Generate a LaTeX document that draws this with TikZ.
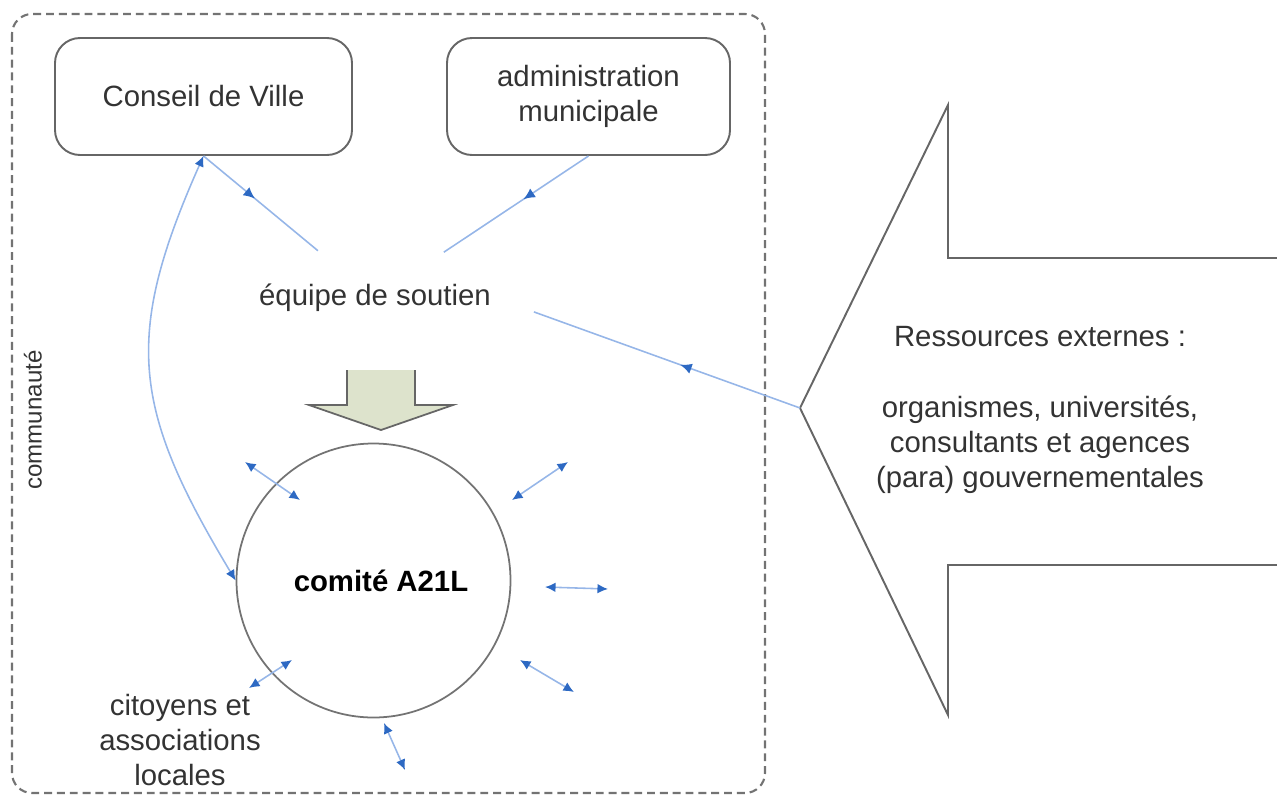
\documentclass[tikz,border=0pt]{standalone}
\usepackage{fontspec}
\setmainfont{Liberation Sans}
\usepackage{tikz}
\usetikzlibrary{arrows.meta}
\usetikzlibrary{shapes.geometric}
\usetikzlibrary{decorations.markings}
\definecolor{linkblue}{RGB}{150,182,232}
\definecolor{tipblue}{RGB}{45,105,195}
\definecolor{arrowfill}{RGB}{221,227,204}
\definecolor{txtgray}{RGB}{51,51,51}
\newcommand*\txtsize{\fontsize{16.7}{20}\selectfont}
\tikzset{
  entity/.style={draw=black!60,line width=1.1pt,rounded corners=0.5cm,minimum width=#1,
    minimum height=2.34cm,align=center,text=txtgray},
  link/.style={linkblue,line width=0.9pt},
  dbl/.style={link,{Latex[length=6pt,width=5.5pt,color=tipblue]}-{Latex[length=6pt,width=5.5pt,color=tipblue]}},
  midtip/.style={link,postaction={decorate},decoration={markings,
    mark=at position 0.45 with {\arrow{Latex[length=6.5pt,width=6pt,color=tipblue]}}}},
}

\begin{document}
\begin{tikzpicture}[font=\txtsize]
\useasboundingbox (0,0) rectangle (25.54,-15.9);
%community frame
\draw [black!55,line width=1.2pt,dash pattern=on 4.5pt off 2.8pt,rounded corners=0.4cm] (0.24,-0.28) rectangle (15.3,-15.86);
\node [rotate=90,text=txtgray,font=\fontsize{13.7}{16}\selectfont] (commu) at (0.66,-8.4) {communauté};
%boxes
\node [entity=5.94cm] (conseil) at (4.07,-1.93) {Conseil de Ville};
\node [entity=5.66cm] (admin) at (11.77,-1.93) {administration\\municipale};
\node [ellipse,minimum width=6.6cm,minimum height=2cm,inner sep=0pt,text=txtgray] (soutien) at (7.5,-5.96) {équipe de soutien};
%committee
\node [circle,draw=black!55,line width=1pt,minimum size=5.48cm,inner sep=0pt,font=\txtsize\bfseries] (comite) at (7.47,-11.61) {\hspace{0.3cm}comité A21L};
\node [align=center,text=txtgray] (citoyens) at (3.6,-14.8) {citoyens et\\associations\\locales};
%down arrow
\fill [arrowfill] (6.94,-7.4) -- (8.3,-7.4) -- (8.3,-8.1) -- (9.06,-8.1) -- (7.62,-8.6) -- (6.18,-8.1) -- (6.94,-8.1) -- cycle;
\draw [black!60,line width=1pt] (8.3,-7.4) -- (8.3,-8.1) -- (9.06,-8.1) -- (7.62,-8.6) -- (6.18,-8.1) -- (6.94,-8.1) -- (6.94,-7.4);
%external resources
\coordinate (tip) at (16,-8.16);
\draw [black!60,line width=1.1pt] (25.54,-5.16) -- (18.96,-5.16) -- (18.96,-2.1) -- (tip) -- (18.96,-14.3) -- (18.96,-11.3) -- (25.54,-11.3);
\node [align=center,text=txtgray] (ressources) at (20.8,-8.2) {Ressources externes :\\[20pt]organismes, universités,\\consultants et agences\\(para) gouvernementales};
%links
\draw [midtip] (conseil.south) -- (soutien);
\draw [midtip] (admin.south) -- (soutien);
\draw [midtip] (tip) -- (soutien.-5);
\draw [dbl] (conseil.south) to [out=246,in=121,looseness=1.2] (comite.west);
%small links round the committee
\foreach \xa/\ya/\xb/\yb in {-1.47/1.61/-2.57/2.37, 2.77/1.61/3.89/2.37, 3.43/-0.13/4.69/-0.17,
    2.93/-1.59/4.01/-2.23, 0.21/-2.85/0.63/-3.79, -1.63/-1.59/-2.49/-2.15}
  \draw [dbl] ([shift={(\xa,\ya)}]comite.center) -- ([shift={(\xb,\yb)}]comite.center);
\end{tikzpicture}
\end{document}
